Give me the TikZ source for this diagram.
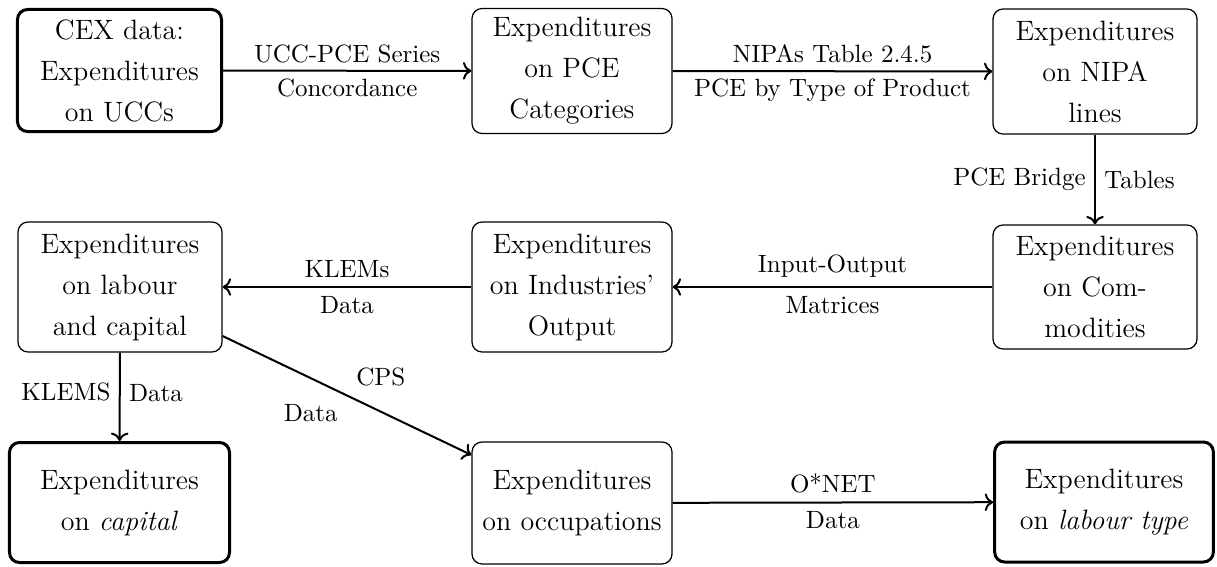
\documentclass[tikz,border=0pt]{standalone}
\usetikzlibrary{arrows.meta}
\begin{document}
\begin{tikzpicture}[x=0.4pt,y=-0.4pt,
  box/.style={draw, rounded corners=4pt, align=center,
    font=\fontsize{11.2}{16.4}\selectfont, inner sep=2pt, line width=0.5pt},
  keybox/.style={box, line width=1.2pt},
  lab/.style={font=\fontsize{10}{12}\selectfont},
  tightlab/.style={lab, inner sep=2.8pt},
  conn/.style={->, line width=0.8pt}
]
\useasboundingbox (0,0) rectangle (1217,566);
% row 1
\node[keybox, minimum width=81.6pt, minimum height=48.8pt] (cex) at (119.5,70.5) {CEX data:\\Expenditures\\on UCCs};
\node[box, minimum width=80pt, minimum height=50pt] (pce) at (572,71) {Expenditures\\on PCE\\Categories};
\node[box, minimum width=81.6pt, minimum height=50pt] (nipa) at (1095,71.5) {Expenditures\\on NIPA\\lines};
% row 2
\node[box, minimum width=81.6pt, minimum height=52pt] (lk) at (120,287) {Expenditures\\on labour\\and capital};
\node[box, minimum width=80pt, minimum height=52pt] (ind) at (572,287) {Expenditures\\on Industries'\\Output};
\node[box, minimum width=81.6pt, minimum height=49.6pt] (com) at (1095,287) {Expenditures\\on Com-\\modities};
% row 3
\node[keybox, minimum width=88pt, minimum height=48pt] (cap) at (119.5,502.5) {Expenditures\\on \textit{capital}};
\node[box, minimum width=80pt, minimum height=48.8pt] (occ) at (572,503) {Expenditures\\on occupations};
\node[keybox, minimum width=87.5pt, minimum height=48pt] (lt) at (1104,502) {Expenditures\\on \textit{labour type}};
% connectors
\draw[conn] (cex) -- node[tightlab, above]{UCC-PCE Series} node[tightlab, below]{Concordance} (pce);
\draw[conn] (pce) -- node[tightlab, above]{NIPAs Table 2.4.5} node[tightlab, below]{PCE by Type of Product} (nipa);
\draw[conn] (nipa) -- node[lab, left]{PCE Bridge} node[lab, right]{Tables} (com);
\draw[conn] (com) -- node[lab, above]{Input-Output} node[lab, below]{Matrices} (ind);
\draw[conn] (ind) -- node[lab, above]{KLEMs} node[lab, below]{Data} (lk);
\draw[conn] (lk) -- node[lab, left, yshift=2pt]{KLEMS} node[lab, right, yshift=1.5pt]{Data} (cap);
\draw[conn] (lk) -- node[lab, above right]{CPS} node[lab, below left]{Data} (occ);
\draw[conn] (occ) -- node[lab, above]{O*NET} node[lab, below]{Data} (lt);
\end{tikzpicture}
\end{document}
